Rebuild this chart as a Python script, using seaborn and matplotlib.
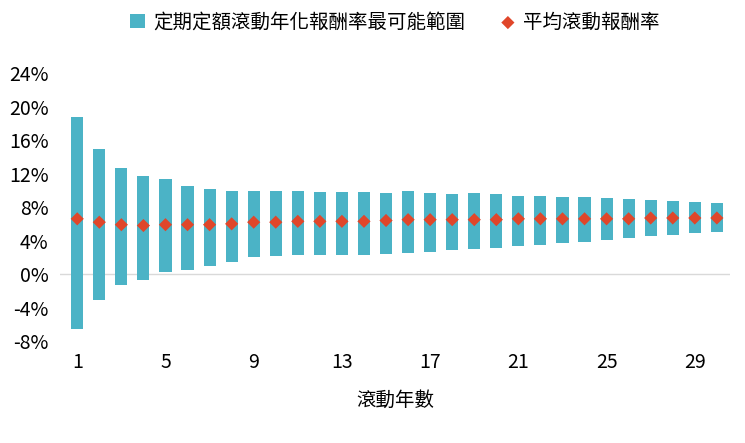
import matplotlib
matplotlib.use("Agg")
import matplotlib.pyplot as plt
import seaborn as sns
import pandas as pd
from matplotlib.ticker import FuncFormatter

years = list(range(1, 31))
high = [18.8,14.9,12.7,11.7,11.3,10.5,10.2,9.9,9.9,9.9,9.9,9.8,9.8,9.8,9.7,
        9.9,9.7,9.6,9.7,9.6,9.3,9.3,9.2,9.2,9.1,9.0,8.9,8.7,8.6,8.5]
low = [-6.5,-3.1,-1.3,-0.7,0.2,0.5,1.0,1.5,2.0,2.2,2.3,2.3,2.3,2.3,2.4,
       2.5,2.6,2.9,3.0,3.1,3.4,3.5,3.7,3.8,4.1,4.3,4.5,4.7,4.9,5.0]
mean = [6.6,6.2,5.9,5.8,5.9,5.9,5.9,6.0,6.2,6.2,6.3,6.3,6.3,6.3,6.4,
        6.5,6.5,6.5,6.5,6.5,6.6,6.6,6.6,6.6,6.6,6.6,6.7,6.7,6.7,6.7]
xticks = [1, 5, 9, 13, 17, 21, 25, 29]
range_label = "定期定額滾動年化報酬率最可能範圍"
mean_label = "平均滾動報酬率"

plt.rcParams["font.family"] = "Noto Sans CJK TC"
df = pd.DataFrame({"year": years, "high": high, "low": low, "mean": mean})

fig = plt.figure(figsize=(7.45, 4.43), dpi=100)
ax = fig.add_axes([0.08, 0.23, 0.90, 0.605])
bars = ax.bar(df["year"], df["high"] - df["low"], bottom=df["low"], width=0.55,
              color="#4BB3C6", label=range_label, zorder=2)
sns.scatterplot(data=df, x="year", y="mean", marker="D", s=45, color="#E0462A",
                edgecolor="none", label=mean_label, ax=ax, zorder=3)
ax.axhline(0, color="#d9d9d9", lw=1, zorder=1)
ax.set_ylim(-8, 24)
ax.set_yticks(range(-8, 25, 4))
ax.yaxis.set_major_formatter(FuncFormatter(lambda v, p: f"{int(v)}%"))
ax.set_xlim(0.2, 30.6)
ax.set_xticks(xticks)
ax.tick_params(length=0, labelsize=14, pad=8)
ax.set_xlabel("滾動年數", fontsize=14, labelpad=12)
ax.set_ylabel("")
for s in ax.spines.values():
    s.set_visible(False)
handles, labels = ax.get_legend_handles_labels()
order = [labels.index(range_label), labels.index(mean_label)]
ax.legend([handles[i] for i in order], [labels[i] for i in order],
          loc="center", bbox_to_anchor=(0.5, 1.19), ncol=2, frameon=False,
          fontsize=14, handlelength=0.8, handletextpad=0.4, columnspacing=1.8)
fig.savefig("out.png", dpi=100)
